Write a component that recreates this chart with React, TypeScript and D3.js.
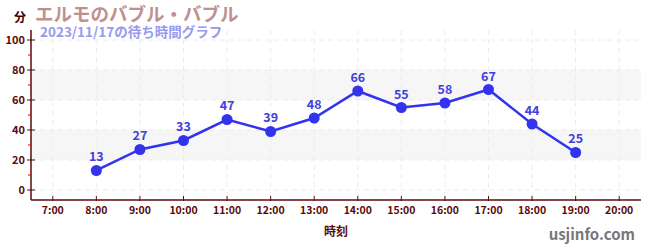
import React from "react";
import * as d3 from "d3";

const hours = [7, 8, 9, 10, 11, 12, 13, 14, 15, 16, 17, 18, 19, 20];
const dataHours = [8, 9, 10, 11, 12, 13, 14, 15, 16, 17, 18, 19];
const waits = [13, 27, 33, 47, 39, 48, 66, 55, 58, 67, 44, 25];
const yTicks = [0, 20, 40, 60, 80, 100];
const yMinor = [10, 30, 50, 70, 90];
const bands = [[20, 40], [60, 80]];

const title = "エルモのバブル・バブル";
const subtitle = "2023/11/17の待ち時間グラフ";

export default function App() {
  const W = 650, H = 250;
  const left = 31, right = 641, top = 30, bottom = 200;
  const x = d3.scaleLinear().domain([6.5, 20.5]).range([left, right]);
  const y = d3.scaleLinear().domain([-6.67, 106.67]).range([bottom, top]);
  const line = d3.line<number>().x((_, i) => x(dataHours[i])).y((d) => y(d));
  const font = "'Noto Sans CJK JP', 'Noto Sans', sans-serif";
  const axisColor = "#5a0a0a";
  return (
    <svg width={W} height={H} style={{ position: "absolute", left: 0, top: 0, fontFamily: font }}>
      <rect width={W} height={H} fill="#fff" />
      {bands.map(([a, b], i) => (
        <rect key={i} x={left} y={y(b)} width={right - left} height={y(a) - y(b)} fill="#f6f6f6" />
      ))}
      {yTicks.map((t) => (
        <line key={t} x1={left} x2={right} y1={y(t)} y2={y(t)} stroke="#ececec" strokeDasharray="5,4" />
      ))}
      {hours.map((h) => (
        <line key={h} x1={x(h)} x2={x(h)} y1={top} y2={bottom} stroke="#ececec" strokeDasharray="5,4" />
      ))}
      <line x1={left} x2={left} y1={top} y2={bottom} stroke={axisColor} strokeWidth={1.5} />
      <line x1={left} x2={right} y1={bottom} y2={bottom} stroke={axisColor} strokeWidth={1.5} />
      {yTicks.map((t) => (
        <g key={t}>
          <line x1={left - 4} x2={left + 4} y1={y(t)} y2={y(t)} stroke={axisColor} />
          <text x={left - 6} y={y(t)} dy="0.35em" textAnchor="end" fontSize={11} fontWeight="bold" fill={axisColor}>{t}</text>
        </g>
      ))}
      {yMinor.map((t) => (
        <line key={t} x1={left - 3} x2={left} y1={y(t)} y2={y(t)} stroke="#dd0000" />
      ))}
      {hours.map((h) => (
        <g key={h}>
          <line x1={x(h)} x2={x(h)} y1={bottom - 4} y2={bottom + 1} stroke={axisColor} />
          <text x={x(h)} y={bottom + 14} textAnchor="middle" fontSize={10.5} fontWeight="bold" fill={axisColor}>{h}:00</text>
        </g>
      ))}
      <path d={line(waits) || ""} fill="none" stroke="#3333ee" strokeWidth={2.5} />
      {waits.map((v, i) => (
        <g key={i}>
          <circle cx={x(dataHours[i])} cy={y(v)} r={5.5} fill="#3333ee" />
          <text x={x(dataHours[i])} y={y(v) - 9} textAnchor="middle" fontSize={12.5} fontWeight="bold" fill="#4040dd">{v}</text>
        </g>
      ))}
      <text x={14} y={22} fontSize={12} fontWeight="bold" fill="#400000">分</text>
      <text x={35} y={21} fontSize={18.5} fontWeight="bold" fill="#c09090">{title}</text>
      <text x={40} y={37} fontSize={13.5} fontWeight="bold" fill="#9999ee">{subtitle}</text>
      <text x={336} y={236} textAnchor="middle" fontSize={12} fontWeight="bold" fill={axisColor}>時刻</text>
      <text x={635} y={240} textAnchor="end" fontSize={15} fontWeight="bold" fill="#777">usjinfo.com</text>
    </svg>
  );
}
